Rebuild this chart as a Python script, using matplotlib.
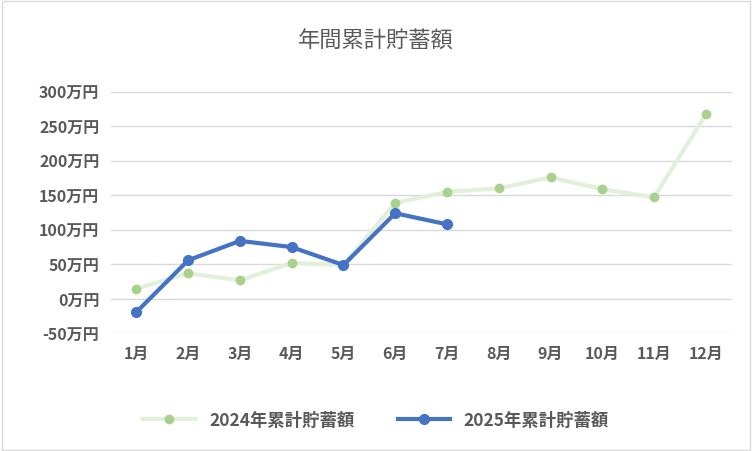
import matplotlib.pyplot as plt
from matplotlib.patches import Rectangle

plt.rcParams["font.family"] = "Noto Sans CJK JP"

months = ["1月", "2月", "3月", "4月", "5月", "6月", "7月", "8月", "9月", "10月", "11月", "12月"]
y2024 = [15, 37, 27, 52, 49, 139, 155, 160, 176, 159, 147, 267]
y2025 = [-19, 56, 84, 75, 49, 124, 108]
yticks = [-50, 0, 50, 100, 150, 200, 250, 300]

fig = plt.figure(figsize=(7.52, 4.52), dpi=100)
ax = fig.add_axes([0.147, 0.26, 0.826, 0.535])
fig.patches.append(Rectangle((0.002, 0.003), 0.995, 0.993, transform=fig.transFigure,
                             fill=False, edgecolor="#d9d9d9", lw=1))

x = range(len(months))
ax.plot(list(x), y2024, color="#e2efda", lw=3, marker="o", ms=6,
        mfc="#a9d18e", mec="#a9d18e", label="2024年累計貯蓄額", zorder=2)
ax.plot(list(x)[:len(y2025)], y2025, color="#4472c4", lw=3, marker="o", ms=7,
        label="2025年累計貯蓄額", zorder=3)

ax.set_xlim(-0.5, len(months) - 0.5)
ax.set_ylim(-50, 300)
ax.set_yticks(yticks)
ax.set_yticklabels([f"{v}万円" for v in yticks])
ax.set_xticks(list(x))
ax.set_xticklabels(months)
ax.grid(axis="y", color="#d9d9d9", lw=1)
ax.set_axisbelow(True)
for s in ax.spines.values():
    s.set_visible(False)
ax.tick_params(length=0, labelsize=11.5, colors="#595959", pad=8)
for lbl in ax.get_xticklabels() + ax.get_yticklabels():
    lbl.set_fontweight("bold")

fig.suptitle("年間累計貯蓄額", y=0.935, fontsize=16, color="#595959")
fig.legend(loc="lower center", bbox_to_anchor=(0.5, 0.015), ncol=2, frameon=False,
           labelcolor="#595959", handlelength=3, columnspacing=2.5,
           prop={"weight": "bold", "size": 12.5})

fig.savefig("out.png", dpi=100)
